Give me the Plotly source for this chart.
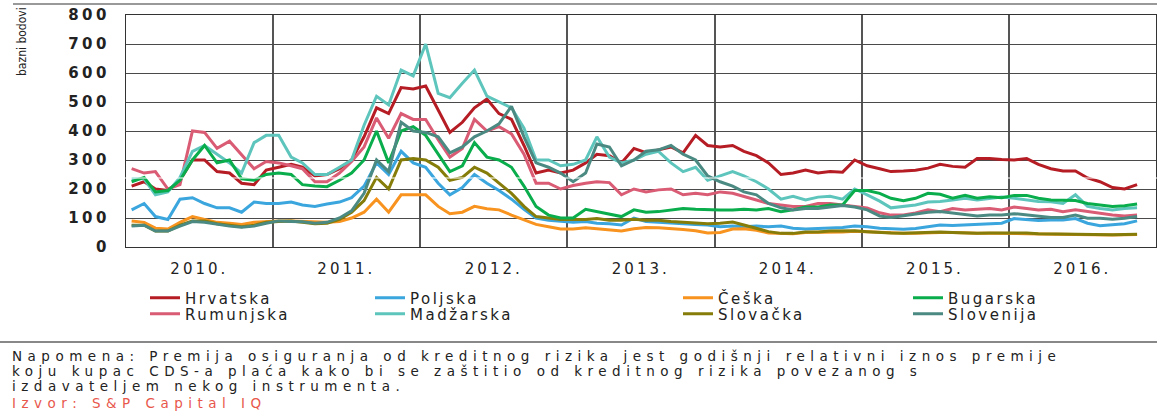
import pandas as pd
import plotly.graph_objects as go

# monthly readings (mid-month), Jan 2010 - Nov 2016, basis points
months = pd.date_range("2010-01-01", periods=83, freq="MS") + pd.Timedelta(days=14)

hrvatska = [210, 225, 200, 195, 230, 300, 300, 260, 255, 220, 215, 265,
            275, 285, 275, 245, 250, 270, 300, 380, 480, 460, 550, 545,
            555, 470, 395, 430, 480, 510, 460, 440, 350, 255, 265, 255,
            265, 290, 320, 315, 290, 340, 325, 335, 345, 325, 385, 350,
            345, 350, 330, 315, 290, 250, 255, 265, 255, 260, 258, 300,
            280, 270, 260, 262, 265, 272, 285, 278, 275, 305, 305, 302,
            300, 305, 285, 270, 262, 262, 238, 225, 205, 200, 215]
rumunjska = [270, 255, 260, 200, 215, 400, 395, 340, 365, 320, 270, 295,
             290, 280, 270, 225, 225, 255, 295, 345, 445, 375, 460, 440,
             440, 370, 310, 340, 440, 400, 415, 390, 320, 220, 220, 200,
             212, 220, 225, 222, 180, 200, 190, 197, 200, 180, 185, 180,
             190, 185, 175, 162, 150, 145, 140, 140, 150, 150, 145, 140,
             135, 118, 110, 110, 117, 128, 122, 133, 128, 130, 133, 128,
             138, 133, 128, 130, 122, 128, 122, 116, 110, 107, 110]
poljska = [128, 150, 105, 95, 165, 170, 150, 135, 135, 120, 155, 150,
           150, 155, 145, 140, 148, 155, 170, 210, 290, 250, 330, 290,
           275, 220, 180, 205, 250, 220, 195, 165, 130, 100, 92, 88,
           85, 88, 82, 80, 76, 100, 88, 85, 82, 80, 78, 76,
           70, 72, 70, 72, 70, 72, 65, 62, 64, 64, 67, 72,
           70, 65, 62, 61, 64, 70, 76, 74, 76, 79, 80, 82,
           98, 95, 91, 93, 93, 98, 82, 73, 76, 80, 90]
madzarska = [235, 235, 180, 190, 240, 330, 350, 320, 290, 255, 360, 385,
             385, 310, 290, 250, 250, 275, 300, 420, 520, 490, 610, 590,
             700, 530, 515, 565, 610, 520, 500, 480, 410, 300, 300, 280,
             285, 300, 380, 310, 290, 300, 320, 330, 290, 260, 275, 230,
             245, 260, 245, 225, 200, 165, 175, 162, 172, 175, 165, 200,
             180, 158, 135, 140, 145, 155, 157, 162, 168, 162, 168, 172,
             168, 162, 157, 156, 150, 180, 140, 133, 128, 133, 135]
ceska = [90, 85, 65, 62, 85, 105, 95, 85, 82, 78, 85, 88,
         90, 90, 88, 85, 85, 88, 100, 120, 165, 120, 180, 180,
         180, 140, 115, 120, 140, 132, 128, 110, 95, 78, 70, 62,
         62, 66, 63, 58, 55, 63, 67, 66, 64, 60, 56, 48,
         50, 62, 63, 58, 48, 46, 46, 50, 50, 52, 52, 54,
         52, 50, 48, 47, 47, 49, 50, 50, 48, 47, 47, 47,
         48, 46, 45, 44, 43, 43, 42, 42, 41, 42, 43]
slovacka = [75, 75, 55, 55, 75, 90, 90, 80, 75, 70, 75, 85,
            88, 90, 85, 80, 82, 95, 120, 160, 240, 200, 300, 305,
            300, 275, 230, 240, 275, 255, 220, 185, 140, 105, 100, 95,
            95, 95, 98, 92, 92, 96, 92, 92, 88, 86, 82, 80,
            82, 86, 76, 64, 53, 47, 47, 52, 52, 55, 55, 56,
            53, 50, 48, 47, 48, 50, 52, 50, 48, 47, 48, 48,
            50, 48, 46, 45, 44, 45, 43, 42, 42, 43, 44]
bugarska = [225, 240, 190, 195, 230, 300, 350, 290, 300, 235, 230, 250,
            255, 250, 215, 210, 208, 230, 255, 300, 400, 290, 400, 415,
            385, 320, 260, 280, 360, 310, 300, 275, 210, 140, 110, 100,
            100, 130, 122, 112, 105, 128, 120, 122, 128, 133, 130, 128,
            128, 128, 130, 128, 133, 122, 128, 138, 138, 145, 145, 195,
            195, 185, 168, 160, 168, 185, 182, 168, 178, 168, 173, 170,
            178, 178, 168, 162, 162, 160, 150, 145, 140, 142, 148]
slovenija = [72, 75, 55, 55, 72, 88, 85, 78, 72, 68, 72, 82,
             90, 88, 87, 82, 85, 100, 125, 185, 300, 260, 430, 400,
             395, 380, 325, 345, 380, 400, 425, 485, 380, 290, 275, 255,
             225, 255, 355, 345, 280, 300, 330, 335, 350, 320, 300, 245,
             225, 210, 190, 180, 150, 135, 128, 133, 133, 138, 143, 138,
             128, 107, 102, 108, 115, 120, 122, 117, 110, 107, 110, 110,
             115, 110, 107, 102, 102, 110, 99, 99, 96, 99, 105]

series_names = ["Hrvatska", "Rumunjska", "Poljska", "Madžarska",
                "Češka", "Slovačka", "Bugarska", "Slovenija"]
series_values = [hrvatska, rumunjska, poljska, madzarska,
                 ceska, slovacka, bugarska, slovenija]
series_colors = ["#b51c24", "#d95b74", "#3aa6dd", "#5ec5bd",
                 "#f7931e", "#857c0a", "#0aad4b", "#4b8a82"]

y_ticks = [0, 100, 200, 300, 400, 500, 600, 700, 800]
year_labels = ["2010.", "2011.", "2012.", "2013.", "2014.", "2015.", "2016."]
year_mid = pd.to_datetime([f"{y}-07-02" for y in range(2010, 2017)])
year_starts = pd.to_datetime([f"{y}-01-01" for y in range(2011, 2017)])

W, H = 1157, 412
L, R, T, B = 126, 1, 15, 165
pw, ph = W - L - R, H - T - B

def px_x(p):
    return (p - L) / pw

def px_y(p):
    return (H - B - p) / ph

def spaced(t, sp):
    return f'<span style="letter-spacing:{sp}px">{t}</span>'

# legend column positions (text start px) and row centres (px)
leg_cols = [185, 185, 410, 410, 718, 718, 948, 948]
leg_rows = [298, 314, 298, 314, 298, 314, 298, 314]

fig = go.Figure()
layout_legends = {}
for i, (name, vals, col) in enumerate(zip(series_names, series_values, series_colors)):
    lname = "legend" if i == 0 else f"legend{i+1}"
    fig.add_trace(go.Scatter(x=months, y=vals, mode="lines", name=spaced(name, 2.5),
                             line=dict(color=col, width=3),
                             legend=lname))
    layout_legends[lname] = dict(
        x=px_x(leg_cols[i] - 40), y=px_y(leg_rows[i]),
        xanchor="left", yanchor="middle",
        bgcolor="rgba(0,0,0,0)", borderwidth=0,
        font=dict(family="DejaVu Sans", size=15, color="#222"),
        itemwidth=30,
    )

fig.update_layout(
    width=W, height=H,
    margin=dict(l=L, r=R, t=T, b=B, pad=0),
    paper_bgcolor="white", plot_bgcolor="white",
    showlegend=True,
    **layout_legends,
)

fig.update_xaxes(
    type="date",
    range=["2010-01-01", "2017-01-01"],
    tickmode="array", tickvals=year_mid,
    ticktext=[spaced(t, 3) for t in year_labels],
    showgrid=False,
    minor=dict(tickmode="array", tickvals=year_starts, showgrid=True,
               gridcolor="#555", gridwidth=2, ticks=""),
    showline=True, linecolor="#333", linewidth=1, mirror=True,
    ticks="", ticklabelstandoff=8,
    tickfont=dict(family="DejaVu Sans", size=15, color="#222"),
    zeroline=False,
)
fig.update_yaxes(
    range=[0, 800], tickmode="array", tickvals=y_ticks,
    ticktext=[spaced(v, 3.5) for v in y_ticks],
    showgrid=True, gridcolor="#4a4a4a", gridwidth=1,
    showline=True, linecolor="#333", linewidth=1, mirror=True,
    ticks="", ticklabelstandoff=12,
    tickfont=dict(family="DejaVu Sans", size=15, color="#222", weight="bold"),
    zeroline=False,
)

shapes = [
    dict(type="line", xref="paper", yref="paper", x0=px_x(13), x1=px_x(W),
         y0=px_y(4), y1=px_y(4), line=dict(color="#999", width=2)),
    dict(type="line", xref="paper", yref="paper", x0=px_x(0), x1=px_x(W),
         y0=px_y(342), y1=px_y(342), line=dict(color="#888", width=2)),
    dict(type="line", xref="paper", yref="paper", x0=px_x(123), x1=px_x(W),
         y0=px_y(178), y1=px_y(178), line=dict(color="white", width=1), layer="above"),
]
fig.update_layout(shapes=shapes)

notes = [
    ("Napomena: Premija osiguranja od kreditnog rizika jest godišnji relativni iznos premije", 356, "#222"),
    ("koju kupac CDS-a plaća kako bi se zaštitio od kreditnog rizika povezanog s", 371, "#222"),
    ("izdavateljem nekog instrumenta.", 386, "#222"),
    ("Izvor: S&P Capital IQ", 403, "#e8574c"),
]
annotations = [
    dict(text="bazni bodovi", xref="paper", yref="paper", x=px_x(22), y=px_y(42),
         xanchor="center", yanchor="middle", textangle=-90, showarrow=False,
         font=dict(family="Liberation Sans Narrow, DejaVu Sans Condensed, sans-serif", size=12, color="#222")),
]
for txt, py, colr in notes:
    annotations.append(dict(text=spaced(txt, 5.5), xref="paper", yref="paper", x=px_x(11), y=px_y(py),
                            xanchor="left", yanchor="middle", showarrow=False, borderpad=0,
                            font=dict(family="DejaVu Sans", size=13.5, color=colr)))
fig.update_layout(annotations=annotations)

fig.write_html("out.html",
               config={"displayModeBar": False},
               post_script="document.body.style.margin='0';document.body.style.padding='0';document.body.style.overflow='hidden';")
